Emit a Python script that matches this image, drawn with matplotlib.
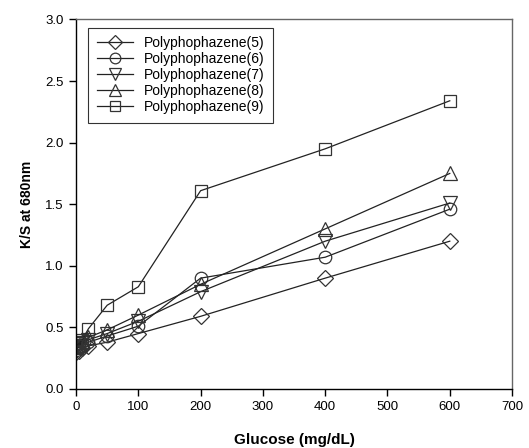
import matplotlib
matplotlib.use("Agg")
import matplotlib.pyplot as plt

plt.rcParams['font.family'] = ['Liberation Sans', 'DejaVu Sans']

glucose = [0, 5, 10, 20, 50, 100, 200, 400, 600]
labels = ["Polyphophazene(5)", "Polyphophazene(6)", "Polyphophazene(7)",
          "Polyphophazene(8)", "Polyphophazene(9)"]
ks5 = [0.30, 0.31, 0.33, 0.35, 0.38, 0.45, 0.59, 0.90, 1.20]
ks6 = [0.32, 0.34, 0.35, 0.38, 0.43, 0.51, 0.90, 1.07, 1.46]
ks7 = [0.33, 0.35, 0.37, 0.40, 0.45, 0.55, 0.79, 1.20, 1.51]
ks8 = [0.34, 0.36, 0.38, 0.42, 0.48, 0.60, 0.85, 1.30, 1.75]
ks9 = [0.35, 0.37, 0.40, 0.49, 0.68, 0.83, 1.61, 1.95, 2.34]
series = [ks5, ks6, ks7, ks8, ks9]
markers = ['D', 'o', 'v', '^', 's']
msizes = [8, 9, 10, 10, 9]
xticks = [0, 100, 200, 300, 400, 500, 600, 700]
yticks = [0.0, 0.5, 1.0, 1.5, 2.0, 2.5, 3.0]

fig = plt.figure(figsize=(5.29, 4.48), dpi=100)
ax = fig.add_axes([0.1437, 0.1317, 0.8243, 0.8248])

for ys, m, ms, lab in zip(series, markers, msizes, labels):
    ax.plot(glucose, ys, color='#222222', lw=0.9, marker=m, ms=ms,
            mfc='none', mec='#333333', mew=0.9, label=lab)

ax.set_xlim(0, 700)
ax.set_ylim(0, 3.0)
ax.set_xticks(xticks)
ax.set_yticks(yticks)
ax.set_yticklabels([f"{v:.1f}" for v in yticks])
ax.tick_params(direction='out', length=5, width=1, labelsize=9.5, pad=4)
for s in ['left', 'bottom']:
    ax.spines[s].set_color('black')
    ax.spines[s].set_linewidth(1)
for s in ['top', 'right']:
    ax.spines[s].set_color('#666666')
    ax.spines[s].set_linewidth(1)

ax.set_xlabel("Glucose (mg/dL)", fontsize=11, fontweight='bold', labelpad=14)
ax.set_ylabel("K/S at 680nm", fontsize=10, fontweight='bold', labelpad=8)

leg = ax.legend(loc='upper left', bbox_to_anchor=(0.028, 0.978), fontsize=10,
                borderaxespad=0.0,
                frameon=True, fancybox=False, edgecolor='black',
                handlelength=2.6, handletextpad=0.8, labelspacing=0.15,
                borderpad=0.6, markerscale=0.85)
leg.get_frame().set_linewidth(0.8)

fig.savefig("out.png", dpi=100)
